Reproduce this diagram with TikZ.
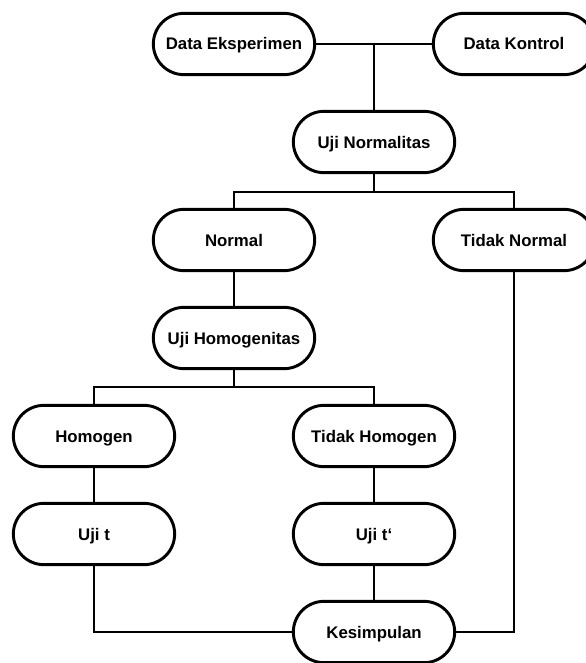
\documentclass[tikz,border=0pt]{standalone}
\usepackage{fontspec}
\setmainfont{Liberation Sans}

\begin{document}
\begin{tikzpicture}[
    x=0.75pt, y=-0.75pt,
    stage/.style={rectangle, draw, line width=2.2pt, rounded corners=23pt, fill=white,
        minimum width=121pt, minimum height=46pt, text centered,
        text height=9pt, text depth=0pt,
        font=\fontsize{12.6}{15}\selectfont\bfseries},
    link/.style={line width=2.2pt}
]
\useasboundingbox (0, 0) rectangle (585, 663);

\node[stage] (eksp) at (234, 44) {Data Eksperimen};
\node[stage] (kontrol) at (514, 44) {Data Kontrol};
\node[stage] (normalitas) at (374, 142) {Uji Normalitas};
\node[stage] (normal) at (234, 240) {Normal};
\node[stage] (tidaknormal) at (514, 240) {Tidak Normal};
\node[stage] (homogenitas) at (234, 338) {Uji Homogenitas};
\node[stage] (homogen) at (94, 436) {Homogen};
\node[stage] (tidakhomogen) at (374, 436) {Tidak Homogen};
\node[stage] (ujit) at (94, 534) {Uji t};
\node[stage] (ujitt) at (374, 534) {Uji t‘};
\node[stage] (simpulan) at (374, 632) {Kesimpulan};

\coordinate (split1) at (234, 192);
\coordinate (split2) at (234, 387);

% data to normality test
\draw[link] (eksp.east) -- (kontrol.west);
\draw[link] (normalitas.north) -- (normalitas.north |- eksp.east);

% normality branches
\draw[link] (normalitas.south) -- (normalitas.south |- split1);
\draw[link] (normal.north) |- (split1) -| (tidaknormal.north);
\draw[link] (normal.south) -- (homogenitas.north);

% homogeneity branches
\draw[link] (homogenitas.south) -- (split2);
\draw[link] (homogen.north) |- (split2) -| (tidakhomogen.north);
\draw[link] (homogen.south) -- (ujit.north);
\draw[link] (tidakhomogen.south) -- (ujitt.north);

% to conclusion
\draw[link] (ujit.south) |- (simpulan.west);
\draw[link] (ujitt.south) -- (simpulan.north);
\draw[link] (tidaknormal.south) |- (simpulan.east);

\end{tikzpicture}
\end{document}
